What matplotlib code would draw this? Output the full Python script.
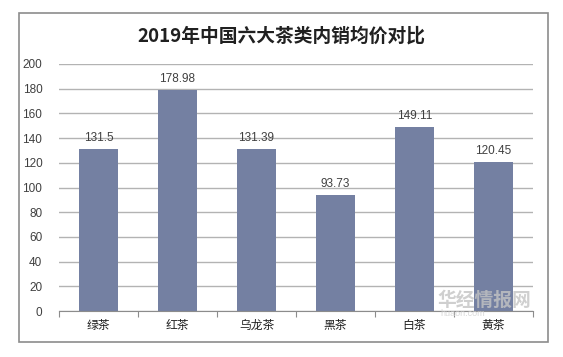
import matplotlib.pyplot as plt
from matplotlib.patches import Rectangle

categories = ['绿茶', '红茶', '乌龙茶', '黑茶', '白茶', '黄茶']
prices = [131.5, 178.98, 131.39, 93.73, 149.11, 120.45]
price_labels = ['131.5', '178.98', '131.39', '93.73', '149.11', '120.45']
yticks = [0, 20, 40, 60, 80, 100, 120, 140, 160, 180, 200]

plt.rcParams['font.family'] = ['Liberation Sans', 'Noto Sans CJK SC']

W, H = 563, 357
fig = plt.figure(figsize=(W / 100, H / 100), dpi=100)

# outer frame around the chart
fig.patches.append(Rectangle((19 / W, 1 - 342 / H), 529 / W, 329 / H,
                             transform=fig.transFigure, fill=False,
                             edgecolor='#8c8c8c', linewidth=1.2))

ax = fig.add_axes([59 / W, 1 - 311 / H, 474 / W, 247 / H])
x = range(len(categories))
ax.bar(x, prices, width=0.5, color='#7480a2', zorder=2)
for xi, v, lab in zip(x, prices, price_labels):
    ax.text(xi, v + 4, lab, ha='center', va='bottom', fontsize=8.5, color='#404040')

ax.set_xlim(-0.5, len(categories) - 0.5)
ax.set_ylim(0, 200)
ax.set_yticks(yticks)
ax.set_yticklabels([str(t) for t in yticks], fontsize=8.5, color='#404040')
ax.yaxis.grid(True, color='#b3b3b3', linewidth=1)
ax.set_axisbelow(True)
ax.tick_params(axis='y', length=0, pad=12)

# category labels with small tick marks at boundaries
ax.set_xticks([i - 0.5 for i in range(len(categories) + 1)], minor=False)
ax.set_xticklabels([])
ax.set_xticks(list(x), minor=True)
ax.set_xticklabels(categories, minor=True, fontsize=8.5, color='#202020',
                   family=['Noto Sans CJK SC'])
ax.tick_params(axis='x', which='major', length=4, color='#8c8c8c')
ax.tick_params(axis='x', which='minor', length=0, pad=6)

for s in ['top', 'right', 'left']:
    ax.spines[s].set_visible(False)
ax.spines['bottom'].set_color('#8c8c8c')

fig.text(0.5, 1 - 36 / H, '2019年中国六大茶类内销均价对比', ha='center', va='center',
         fontsize=13.5, fontweight='bold', color='#202020',
         family=['Noto Sans CJK SC'])

# watermark
fig.text(437 / W, 1 - 300 / H, '华经情报网', fontsize=13.5, color='#c4c4c4',
         fontweight='bold', family=['Noto Sans CJK SC'], va='center', alpha=0.8)
fig.text(440 / W, 1 - 314 / H, 'huaon.com', fontsize=6.5, color='#d0d0d0',
         va='center', alpha=0.8)

fig.savefig('out.png', dpi=100)
